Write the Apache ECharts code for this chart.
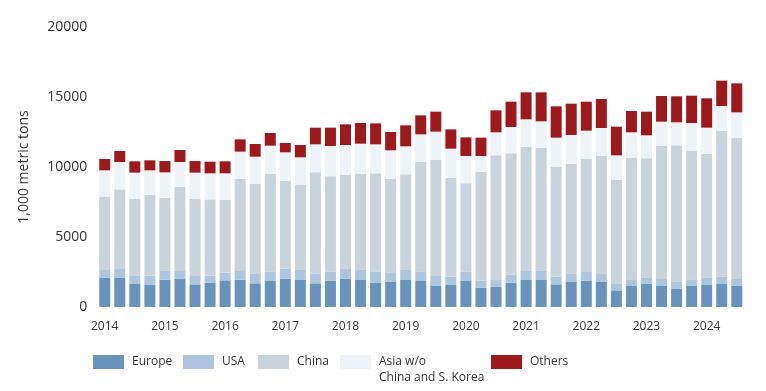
<!DOCTYPE html>
<html>
<head>
<meta charset="utf-8">
<script src="https://cdn.jsdelivr.net/npm/echarts@6/dist/echarts.min.js"></script>
<style>
html,body{margin:0;padding:0;background:#fff;}
#chart{width:766px;height:391px;}
</style>
</head>
<body>
<div id="chart"></div>
<script>
var years = ['2014','2015','2016','2017','2018','2019','2020','2021','2022','2023','2024'];
var categories = [];
years.forEach(function (y) { ['Q1','Q2','Q3','Q4'].forEach(function (q) { categories.push(y + ' ' + q); }); });
categories = categories.slice(0, 43);

var seriesNames = ['Europe', 'USA', 'China', 'Asia w/o\nChina and S. Korea', 'Others'];
var europe = [2095,2071,1643,1571,1952,2000,1619,1738, 1905,1952,1690,1857,2024,1929,1690,1881, 2024,1929,1714,1786,1929,1857,1500,1571, 1857,1381,1429,1738,1929,1929,1619,1786, 1881,1786,1190,1500,1667,1500,1310,1500, 1571,1643,1500];
var usa = [548,643,619,667,667,571,595,500, 548,619,714,667,714,714,690,643, 738,762,810,643,714,667,714,595, 667,500,500,571,643,690,548,571, 619,571,500,476,452,500,476,476, 548,524,500];
var china = [5238,5690,5452,5762,5167,6000,5524,5452, 5190,6595,6381,6976,6262,6071,7238,6810, 6667,6833,7024,6714,6833,7833,8286,7071, 6310,7786,8905,8667,8881,8738,7857,7857, 8095,8429,7381,8690,8500,9500,9762,9190, 8810,10405,10071];
var asia = [1881,1952,1881,1762,1833,1786,1857,1857, 1905,1929,1952,2024,2048,1976,2000,2167, 2143,2143,2071,2048,2000,1976,2024,2071, 1952,1119,1643,1881,1952,1905,2071,2071, 2000,2000,1762,1810,1643,1738,1643,1976, 1881,1786,1833];
var others = [810,786,810,714,810,857,833,833, 857,881,905,905,667,881,1190,1310, 1476,1476,1500,1310,1500,1357,1429,1381, 1333,1310,1571,1810,1929,2071,2238,2238, 2071,2071,2048,1524,1690,1833,1857,1952, 2095,1810,2071];
var yTicks = [0, 5000, 10000, 15000, 20000];

var colors = ['#6893bd', '#aec6dd', '#c9d3dc', '#eef3f8', '#9c1a1d'];
var dataSets = [europe, usa, china, asia, others];

var legendFont = "'Open Sans', sans-serif";
var legendLefts = [93, 183, 258, 340, 491];
var legends = seriesNames.map(function (name, i) {
  var multi = name.indexOf('\n') >= 0;
  return {
    show: true,
    left: legendLefts[i],
    top: multi ? 338 : 355,
    padding: 0,
    orient: 'horizontal',
    itemWidth: 31,
    itemHeight: 14,
    icon: 'rect',
    selectedMode: false,
    data: [{ name: name }],
    formatter: multi ? function (n) { return ' \n' + n; } : null,
    textStyle: multi ? {
      fontFamily: legendFont, fontSize: 12, color: '#333', lineHeight: 16, padding: [0, 0, 0, 3]
    } : {
      fontFamily: legendFont, fontSize: 12, color: '#333', padding: [0, 0, 0, 3]
    }
  };
});

var chart = echarts.init(document.getElementById('chart'), null, { renderer: 'canvas' });
chart.setOption({
  animation: false,
  backgroundColor: '#fff',
  textStyle: { fontFamily: "'Open Sans', sans-serif" },
  legend: legends,
  grid: { left: 97.2, right: 21.7, top: 27, bottom: 84, containLabel: false },
  xAxis: {
    type: 'category',
    data: categories,
    axisLine: { show: false },
    axisTick: { show: false },
    axisLabel: {
      interval: 3,
      margin: 14,
      fontSize: 12,
      color: '#333',
      fontFamily: "'Open Sans', sans-serif",
      formatter: function (v) { return v.split(' ')[0]; }
    }
  },
  yAxis: {
    type: 'value',
    min: yTicks[0],
    max: yTicks[yTicks.length - 1],
    interval: 5000,
    name: '1,000 metric tons',
    nameLocation: 'middle',
    nameGap: 66,
    nameRotate: 90,
    nameTextStyle: { fontSize: 14, color: '#333', fontFamily: "'Open Sans', sans-serif" },
    axisLine: { show: false },
    axisTick: { show: false },
    splitLine: { show: false },
    axisLabel: {
      fontSize: 14, color: '#333', margin: 10, fontFamily: "'Open Sans', sans-serif",
      formatter: function (v) { return String(v); }
    }
  },
  series: seriesNames.map(function (name, i) {
    return {
      name: name,
      type: 'bar',
      stack: 'total',
      barWidth: 11,
      itemStyle: { color: colors[i] },
      data: dataSets[i]
    };
  })
});
</script>
</body>
</html>
